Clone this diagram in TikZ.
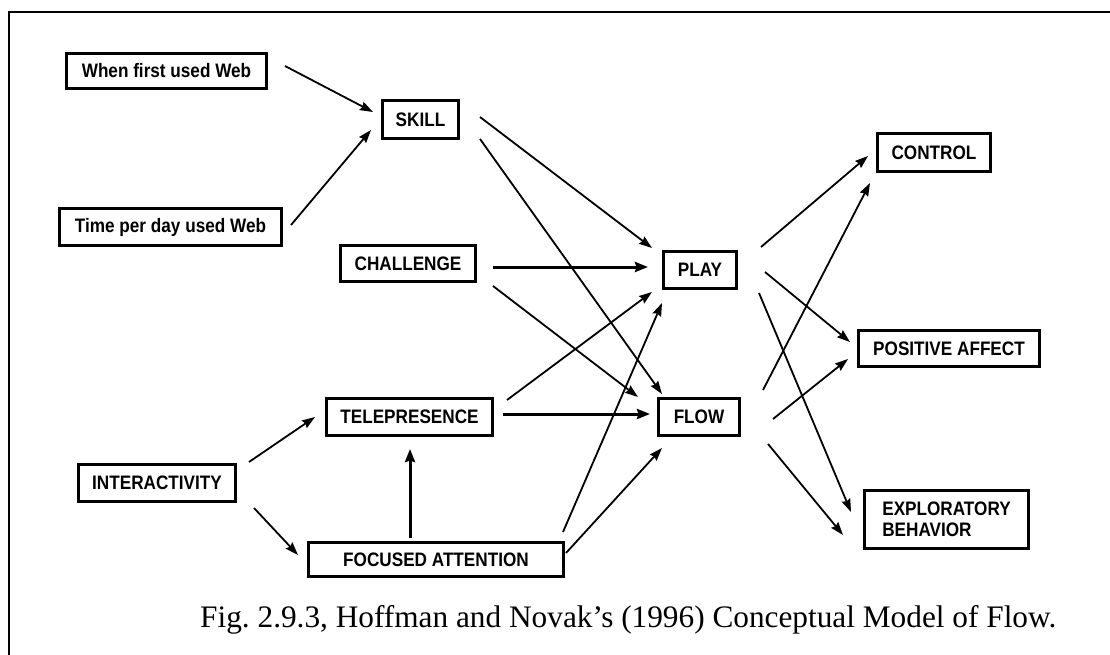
\documentclass[tikz,border=0pt]{standalone}
\usepackage{fontspec}
\setmainfont{Liberation Serif}
\setsansfont{Liberation Sans}
\newfontfamily\boxfont[FakeStretch=0.88]{Liberation Sans}
\usetikzlibrary{arrows.meta,calc}
\begin{document}
\frenchspacing
\begin{tikzpicture}[x=1pt,y=-1pt,
  box/.style={draw,line width=3pt,inner sep=0pt,font=\boxfont\bfseries\fontsize{19.5}{21}\selectfont},
  arr/.style={line width=1.8pt,-{Stealth[length=13pt,width=9pt,inset=1.5pt]}},
  tarr/.style={line width=3pt,-{Stealth[length=13pt,width=10pt,inset=1.5pt]}}]
\useasboundingbox (0,0) rectangle (1110,655);
\fill[white] (0,0) rectangle (1110,655);
\draw[line width=2pt] (8,12.5) coordinate (fa) -- (1110,12.5) coordinate (fb);
\draw[line width=2pt] (9,11.5) coordinate (fc) -- (9,655) coordinate (fd);
% nodes
\node[box,minimum width=200pt,minimum height=35pt] (web1) at (166.5,71) {When first used Web};
\node[box,minimum width=76pt,minimum height=38pt] (skill) at (420.5,119.5) {SKILL};
\node[box,minimum width=222pt,minimum height=37pt] (web2) at (170.5,227) {Time per day used Web};
\node[box,minimum width=135pt,minimum height=36pt] (chal) at (408,263.5) {CHALLENGE};
\node[box,minimum width=73pt,minimum height=37pt] (play) at (700,270) {PLAY};
\node[box,minimum width=113pt,minimum height=38pt] (ctrl) at (934,152.5) {CONTROL};
\node[box,minimum width=166pt,minimum height=37pt] (tele) at (409.5,417) {TELEPRESENCE};
\node[box,minimum width=157pt,minimum height=37pt] (inter) at (157,483) {INTERACTIVITY};
\node[box,minimum width=255pt,minimum height=34pt] (focus) at (436,559.5) {FOCUSED ATTENTION};
\node[box,minimum width=81pt,minimum height=37pt] (flow) at (699,417) {FLOW};
\node[box,minimum width=181pt,minimum height=36pt] (pos) at (949,348.5) {POSITIVE AFFECT};
\node[box,minimum width=164pt,minimum height=58pt,align=left] (expl) at (946.5,519.5) {EXPLORATORY\\BEHAVIOR};
% connectors
\draw[arr] ($(web1)+(118.5,-5)$) -- ($(skill)+(-47.5,-7.5)$);
\draw[arr] ($(web2)+(120.5,-2)$) -- ($(skill)+(-49.5,10.5)$);
\draw[arr] ($(skill)+(59.5,-2.5)$) -- ($(play)+(-48,-22)$);
\draw[arr] ($(skill)+(59.5,19.5)$) -- ($(flow)+(-37,-23)$);
\draw[tarr] ($(chal)+(85,3.5)$) -- ($(play)+(-52,-3)$);
\draw[arr] ($(chal)+(85,22.5)$) -- ($(flow)+(-61,-20)$);
\draw[arr] ($(tele)+(97.5,-17)$) -- ($(play)+(-48,22)$);
\draw[tarr] ($(tele)+(93.5,-3)$) -- ($(flow)+(-49,-3)$);
\draw[arr] ($(focus)+(127,-27.5)$) -- ($(play)+(-38,33)$);
\draw[arr] ($(focus)+(130,-6.5)$) -- ($(flow)+(-37,31)$);
\draw[arr] ($(inter)+(92,-21)$) -- ($(tele)+(-94.5,0)$);
\draw[arr] ($(inter)+(97,25)$) -- ($(focus)+(-138,-4.5)$);
\draw[tarr] ($(focus)+(-26,-21.5)$) -- ($(tele)+(0.5,32)$);
\draw[arr] ($(play)+(61,-23)$) -- ($(ctrl)+(-66,3.5)$);
\draw[arr] ($(flow)+(64,-27)$) -- ($(ctrl)+(-64,30.5)$);
\draw[arr] ($(play)+(65,2)$) -- ($(pos)+(-99,-6.5)$);
\draw[arr] ($(play)+(59,23)$) -- ($(expl)+(-95.5,-7.5)$);
\draw[arr] ($(flow)+(74,2)$) -- ($(pos)+(-101,10.5)$);
\draw[arr] ($(flow)+(69,27)$) -- ($(expl)+(-103.5,15.5)$);
% caption
\node[anchor=base west,inner sep=0pt,font=\fontsize{31.3}{36}\selectfont] (cap) at (200,627) {Fig. 2.9.3, Hoffman and Novak’s (1996) Conceptual Model of Flow.};
\end{tikzpicture}
\end{document}
